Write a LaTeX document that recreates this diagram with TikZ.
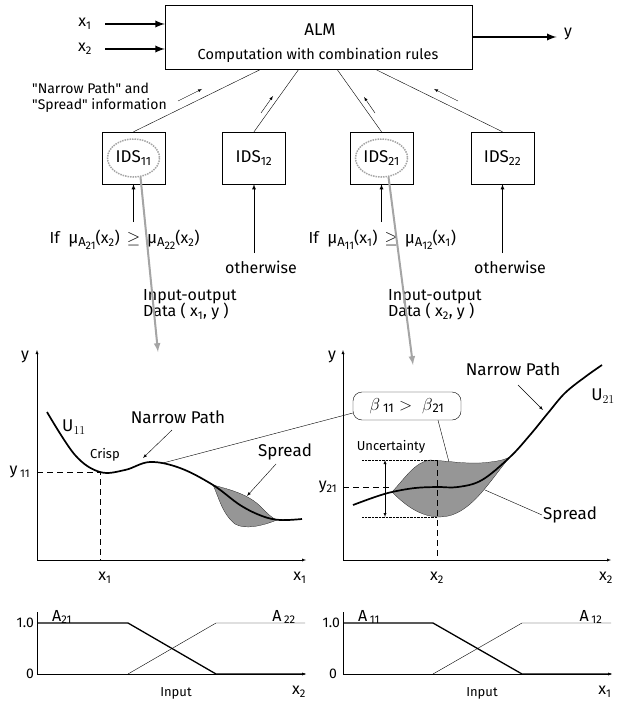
\documentclass[tikz,border=0pt]{standalone}
\usepackage{fontspec}
\setmainfont{Fira Sans}
\usetikzlibrary{positioning,calc}
\definecolor{datagray}{RGB}{165,165,165}
\definecolor{spreadgray}{RGB}{150,150,150}
\newcommand\memb[2]{{\fontsize{17}{17}\selectfont μ}\raisebox{-0.35ex}{\fontsize{13}{13}\selectfont A\raisebox{-0.4ex}{\fontsize{11}{11}\selectfont #1}}(x\textsubscript{#2})}

\begin{document}
\begin{tikzpicture}[
  x=1pt, y=-1pt,
  font=\fontsize{16}{19}\selectfont,
  box/.style={rectangle, draw, thin, minimum width=63pt, minimum height=52pt, inner sep=0pt, font=\fontsize{17}{19}\selectfont},
  bigarrow/.style={-latex, line width=2.2pt},
  arrow/.style={-latex, thick},
  hint/.style={-latex, thin},
  axis/.style={-latex, thin},
  curve/.style={line width=1.7pt},
  spread/.style={fill=spreadgray, draw=black, very thin},
  ring/.style={draw=datagray, densely dotted, line width=1.5pt},
  data/.style={-latex, draw=datagray, line width=2pt},
  guide/.style={dash pattern=on 6pt off 4pt},
  note/.style={font=\fontsize{14}{16}\selectfont},
  big/.style={font=\fontsize{17}{20}\selectfont},
  small/.style={font=\fontsize{13}{15}\selectfont}
]
\useasboundingbox (0,0) rectangle (618,703);

% ALM block and inputs
\node[rectangle, draw, thin, minimum width=307pt, minimum height=64pt] (alm) at (318.5,37) {};
\node[big] at (320,30) {ALM};
\node[font=\fontsize{14.5}{17}\selectfont] at (318,55) {Computation with combination rules};
\node (in1) at (85,24) {x\textsubscript{1}};
\node (in2) at (85,49) {x\textsubscript{2}};
\node (out) at (568,34) {y};
\draw[bigarrow] ([xshift=10pt]in1.east) -- (in1 -| alm.west);
\draw[bigarrow] ([xshift=10pt]in2.east) -- (in2 -| alm.west);
\draw[bigarrow] (alm.east |- 0,37) -- ([xshift=-4pt]out.west |- 0,37);

% IDS blocks
\node[box] (ids11) at (133.5,158) {IDS\textsubscript{11}};
\node[box] (ids12) at (254,158) {IDS\textsubscript{12}};
\node[box] (ids21) at (381.5,158) {IDS\textsubscript{21}};
\node[box] (ids22) at (502.5,158) {IDS\textsubscript{22}};
\draw[ring] (ids11.center) ellipse (26 and 19);
\draw[ring] (ids21.center) ellipse (26 and 19);

\draw[thin] (ids11.north) -- ($(alm.south west)!0.313!(alm.south east)$);
\draw[thin] (ids12.north) -- ($(alm.south west)!0.436!(alm.south east)$);
\draw[thin] (ids21.north) -- ($(alm.south west)!0.560!(alm.south east)$);
\draw[thin] (ids22.north) -- ($(alm.south west)!0.684!(alm.south east)$);
\draw[hint] (178,101) -- (202,89);
\draw[hint] (261,113) -- (273,96);
\draw[hint] (375,113) -- (364,97);
\draw[hint] (458,101) -- (434,89);
\node[note, align=left, anchor=west, inner sep=1pt] (info) at (31,98) {\textquotedbl Narrow Path\textquotedbl\ and\\\textquotedbl Spread\textquotedbl\ information};

% selection conditions
\node[anchor=west] (cond11) at (46,240) {If\; \memb{21}{2}\, $\geq$\, \memb{22}{2}};
\node[anchor=west] (cond21) at (305,240) {If\; \memb{11}{1}\, $\geq$\, \memb{12}{1}};
\node (else12) at (261,267) {otherwise};
\node (else22) at (510,267) {otherwise};
\draw[arrow] (ids11.south) ++(0,38) -- (ids11.south);
\draw[arrow] (ids12.south) ++(0,69) -- (ids12.south);
\draw[arrow] (ids21.south) ++(0,38) -- (ids21.south);
\draw[arrow] (ids22.south) ++(0,69) -- (ids22.south);

\node[anchor=west, align=left, inner sep=1pt] (io11) at (142,305) {Input-output\\[-3pt]Data ( x\textsubscript{1}, y )};
\node[anchor=west, align=left, inner sep=1pt] (io21) at (387,305) {Input-output\\[-3pt]Data ( x\textsubscript{2}, y )};
\coordinate (d11) at (158,352);
\coordinate (d21) at (413,365);
\draw[data] ($(ids11.center)+(7,19)$) -- (d11);
\draw[data] ($(ids21.center)+(7,19)$) -- (d21);

% left plot: U11
\draw[axis] (37,560) -- (37,350);
\draw[axis] (37,560) -- (306,560);
\node at (25,357) {y};
\node at (20,472) {y\,\textsubscript{11}};
\node at (105,578) {x\textsubscript{1}};
\node at (300,578) {x\textsubscript{1}};
\draw[guide] (37,472) -- (100,472) -- (100,560);
\draw[spread] (213,485) .. controls (232,490) and (250,495) .. (262,508)
  .. controls (268,514) and (272,518) .. (277,520)
  .. controls (262,526) and (245,530) .. (235,524)
  .. controls (222,514) and (218,495) .. (213,485) -- cycle;
\draw[curve] plot[smooth, tension=0.6] coordinates {(47,412) (75,455) (100,472) (125,470) (150,462) (180,468) (213,485) (240,505) (262,516) (280,520) (302,519)};
\node[font=\fontsize{17}{19}\selectfont] at (74,427) {$\mathrm{U}_{11}$};
\node[small] (crisp) at (105,455) {Crisp};
\node[big] (np11) at (178,417) {Narrow Path};
\draw[hint] (172,430) -- (143,458);
\node[big] (sp11) at (285,452) {Spread};
\draw[hint] (276,464) -- (247,496);

% comparison of the two paths
\node[draw, thin, rounded corners=9pt, minimum width=108pt, minimum height=28pt, font=\fontsize{18}{20}\selectfont] (beta) at (407,406) {$\beta$\,\textsubscript{11} $>$\; $\beta$\textsubscript{21}};
\draw[thin] (163,463) -- ([yshift=-7pt]beta.west);
\draw[thin] ([xshift=31pt]beta.south) -- (455,485);

% right plot: U21
\draw[axis] (343,560) -- (343,350);
\draw[axis] (343,560) -- (611,560);
\node at (332,357) {y};
\node at (328,487) {y\textsubscript{21}};
\node at (437,578) {x\textsubscript{2}};
\node at (606,578) {x\textsubscript{2}};
\draw[guide] (343,487) -- (392,487);
\draw[spread] (392,492) .. controls (405,478) and (415,462) .. (430,460)
  .. controls (450,461) and (470,465) .. (490,462)
  .. controls (500,461) and (506,459) .. (510,457)
  .. controls (490,480) and (470,517) .. (440,517)
  .. controls (420,517) and (405,505) .. (392,492) -- cycle;
\draw[guide] (437,460) -- (437,560);
\draw[densely dotted] (362,460) -- (437,460);
\draw[densely dotted] (362,517) -- (437,517);
\draw[latex-latex, thin] (385,460) -- (385,517);
\node[small] (unc) at (391,447) {Uncertainty};
\draw[curve] plot[smooth, tension=0.6] coordinates {(353,505) (375,497) (392,492) (415,488) (437,487) (458,487) (482,480) (510,457) (530,435) (548,413) (565,393) (585,377) (602,365)};
\node[font=\fontsize{17}{19}\selectfont] at (603,396) {$\mathrm{U}_{21}$};
\node[big] (np21) at (513,369) {Narrow Path};
\draw[hint] (518,385) -- (543,410);
\node[big, anchor=west, inner sep=1pt] (sp21) at (542,515) {Spread};
\draw[thin] (sp21.west) -- (485,490);

% membership functions for x2
\draw[axis] (37,674) -- (306,674);
\draw[thin] (37,674) -- (37,612);
\node[note, anchor=east, inner sep=1pt] at (35,623) {1.0};
\node[note] at (30,674) {0};
\node at (62,617) {A\textsubscript{21}};
\node at (284,617) {A\,\textsubscript{22}};
\draw[line width=1.3pt] (37,623) -- (128,623) -- (216,674) -- (305,674);
\draw[thin] (128,674) -- (216,623) -- (305,623);
\node[small] at (176,693) {Input};
\node at (299,692) {x\textsubscript{2}};

% membership functions for x1
\draw[axis] (343,674) -- (612,674);
\draw[thin] (343,674) -- (343,612);
\node[note, anchor=east, inner sep=1pt] at (341,623) {1.0};
\node[note] at (333,674) {0};
\node at (369,617) {A\,\textsubscript{11}};
\node at (591,617) {A\,\textsubscript{12}};
\draw[line width=1.3pt] (343,623) -- (433,623) -- (522,674) -- (611,674);
\draw[thin] (433,674) -- (522,623) -- (611,623);
\node[small] at (482,693) {Input};
\node at (605,692) {x\textsubscript{1}};
\end{tikzpicture}
\end{document}
